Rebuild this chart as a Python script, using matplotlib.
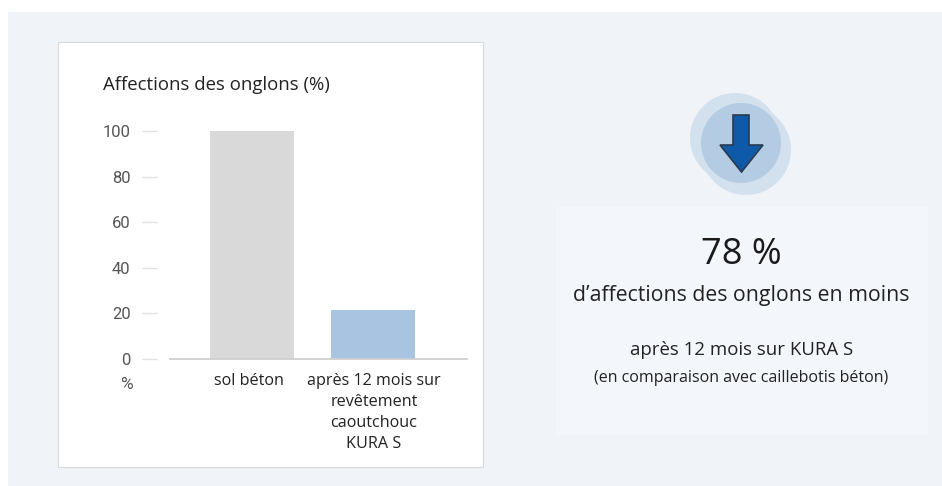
import matplotlib
matplotlib.use("Agg")
import matplotlib.pyplot as plt
from matplotlib.patches import Rectangle, Circle, Polygon

categories = ["sol béton", "après 12 mois sur\nrevêtement\ncaoutchouc\nKURA S"]
values = [100, 21.6]
bar_colors = ["#d9d9d9", "#a8c4e0"]
yticks = [0, 20, 40, 60, 80, 100]

W, H = 942, 486
plt.rcParams["font.family"] = ["Open Sans", "DejaVu Sans"]
fig = plt.figure(figsize=(W / 100, H / 100), dpi=100, facecolor="white")

# pixel coordinates overlay for the page furniture
bg = fig.add_axes([0, 0, 1, 1])
bg.set_xlim(0, W)
bg.set_ylim(H, 0)
bg.axis("off")
bg.add_patch(Rectangle((8, 12), W - 8, H - 12, fc="#f0f4f9", ec="none"))
bg.add_patch(Rectangle((58, 42), 425, 425, fc="white", ec="#d6d9dd", lw=0.8))
bg.add_patch(Rectangle((556, 207), 372, 228, fc="#f3f6fb", ec="none"))

# icon
bg.add_patch(Circle((735, 138), 45, fc="#d3e0ee", ec="none"))
bg.add_patch(Circle((746, 150), 45, fc="#d3e0ee", ec="none"))
bg.add_patch(Circle((741, 143), 40, fc="#b4cce3", ec="none"))
arrow = [(733, 115), (749, 115), (749, 145), (763, 145), (741.5, 172), (720, 145), (733, 145)]
bg.add_patch(Polygon(arrow, closed=True, fc="#0f5aa8", ec="#2b3a4d", lw=1.2))

# bar chart, y: 0 at 359 px, 100 at 131 px
ax = fig.add_axes([157 / W, 1 - 359 / H, 310 / W, 228 / H])
ax.patch.set_alpha(0)
ax.set_xlim(157, 467)
ax.set_ylim(0, 100)
ax.bar([252, 372.5], values, width=84, color=bar_colors)
for s in ["top", "right", "left", "bottom"]:
    ax.spines[s].set_visible(False)
ax.plot([170, 467], [0, 0], color="#cfcfcf", lw=1.3, clip_on=False)
ax.set_yticks(yticks)
ax.set_yticklabels([str(v) for v in yticks], fontsize=12, color="#555555", family=["Roboto", "DejaVu Sans"])
ax.tick_params(axis="y", length=11, width=1, color="#e2e2e2", pad=8, direction="out")
ax.set_xticks([249, 374])
ax.set_xticklabels(categories, fontsize=11.6, color="#222222", linespacing=1.42)
ax.tick_params(axis="x", length=0, pad=10)

bg.text(103, 85, "Affections des onglons (%)", fontsize=13.4, color="#222222", va="center", ha="left")
bg.text(126, 384, "%", fontsize=12.5, color="#555555", va="center", ha="center", family=["Roboto", "DejaVu Sans"])

cx = 741.5
bg.text(cx, 255, "78 %", fontsize=26, color="#1a1a1a", ha="center", va="center")
bg.text(cx, 295, "d’affections des onglons en moins", fontsize=15.3, color="#222222", ha="center", va="center")
bg.text(cx, 350, "après 12 mois sur KURA S", fontsize=13.4, color="#222222", ha="center", va="center")
bg.text(cx, 378, "(en comparaison avec caillebotis béton)", fontsize=11.5, color="#222222", ha="center", va="center")

fig.savefig("out.png", dpi=100)
